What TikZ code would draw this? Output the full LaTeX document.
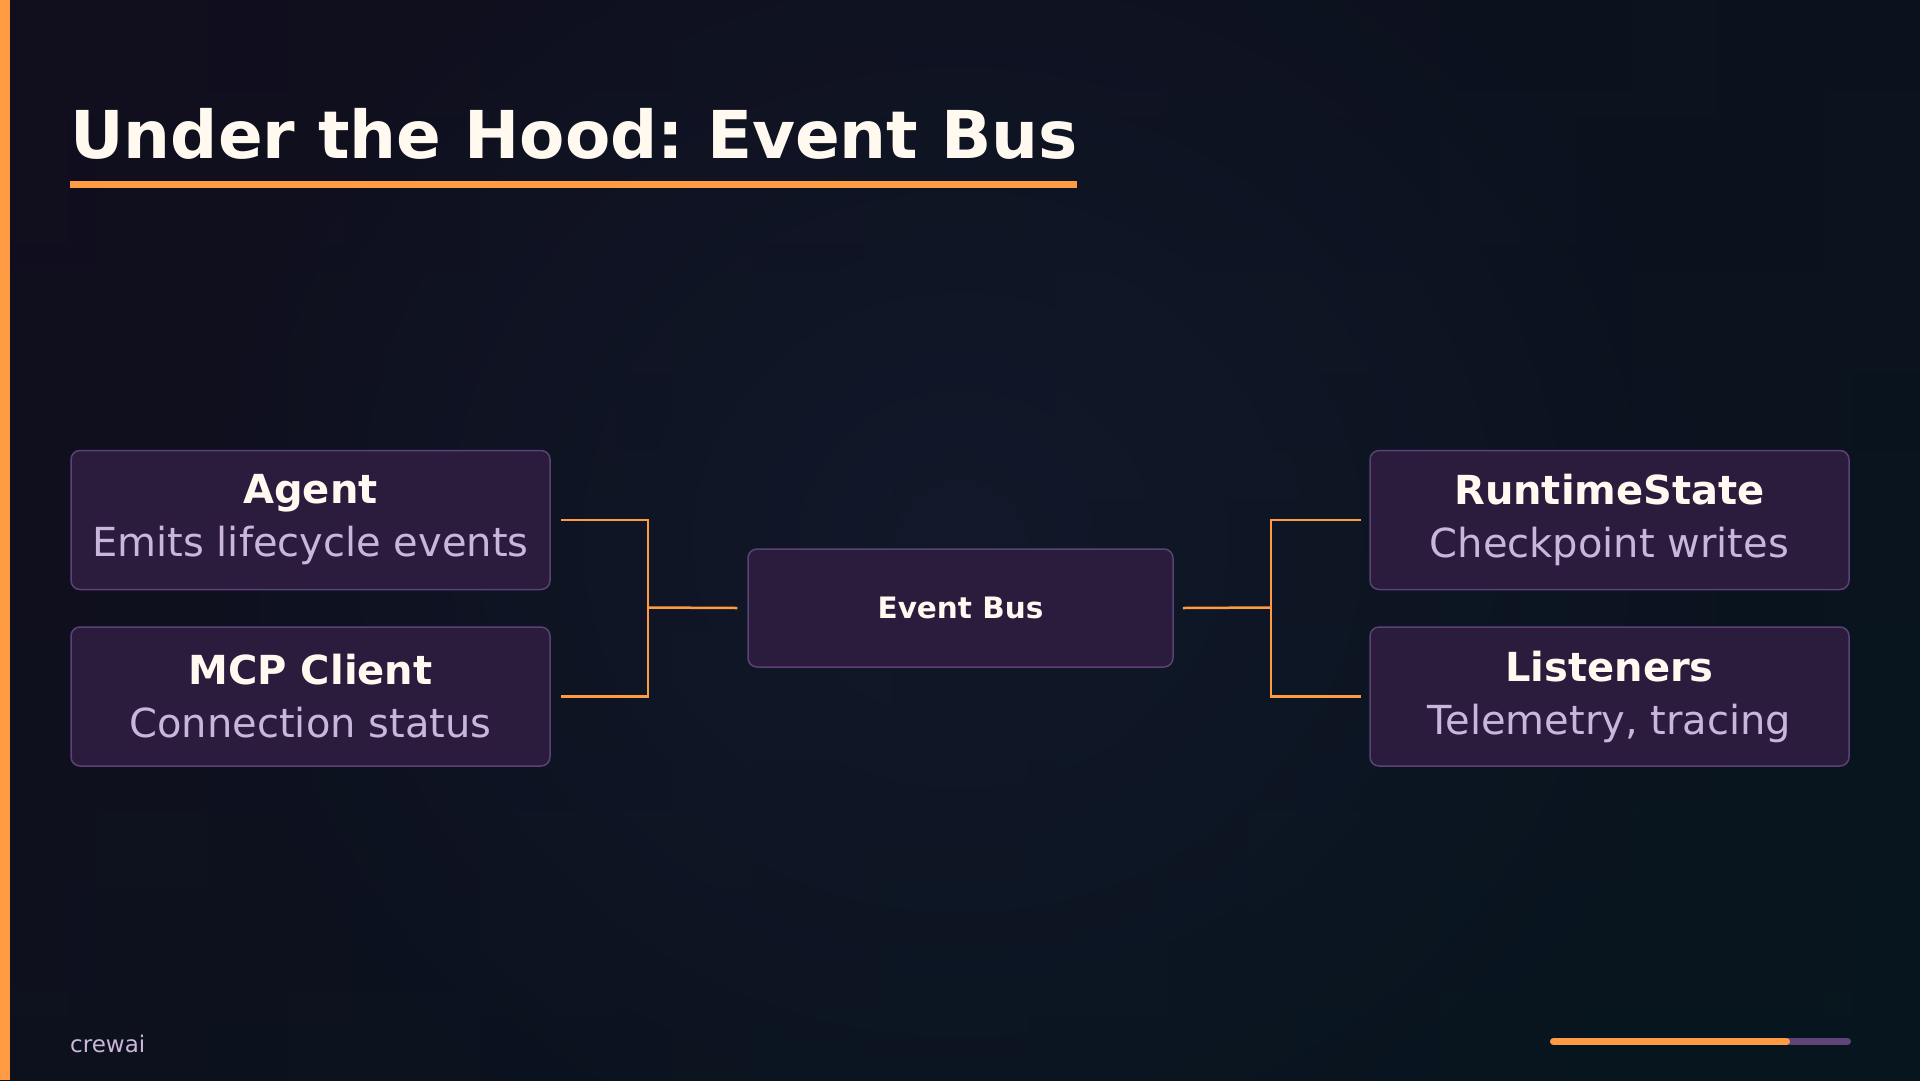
\documentclass[tikz,border=0pt]{standalone}
\usepackage{fontspec}
\setmainfont{DejaVu Sans}
\usetikzlibrary{fadings}
\frenchspacing
\definecolor{bgA}{HTML}{150C1E}
\definecolor{bgB}{HTML}{07161E}
\definecolor{glow}{HTML}{131B2E}
\definecolor{boxfill}{HTML}{2B1B3D}
\definecolor{boxborder}{HTML}{5B4275}
\definecolor{accent}{HTML}{FF9B42}
\definecolor{titlewhite}{HTML}{FFF9F0}
\definecolor{subtext}{HTML}{CBB6DB}
\definecolor{barpurple}{HTML}{5E4479}
\tikzfading[name=glowfade, inner color=transparent!25, outer color=transparent!100]
\tikzset{
  box/.style={draw=boxborder, line width=1.5pt, fill=boxfill, rounded corners=9pt,
    minimum width=479pt, minimum height=139pt, inner sep=0pt, align=center,
    text=titlewhite, font=\fontsize{40}{53}\selectfont},
  busbox/.style={box, minimum width=425pt, minimum height=118pt,
    font=\fontsize{29.5}{36}\selectfont\bfseries},
  conn/.style={draw=accent, line width=2.5pt},
}
\begin{document}
\begin{tikzpicture}[x=1pt,y=-1pt]
\useasboundingbox (0,0) rectangle (1920,1080);
% background
\shade[left color=bgA, right color=bgB] (0,0) rectangle (1920,1080);
\shade[top color=bgA!60!bgB, bottom color=bgB, opacity=0.5] (0,0) rectangle (1920,1080);
\fill[glow, path fading=glowfade] (160,-200) rectangle (1760,1280);
% left accent bar
\fill[accent] (0,0) rectangle (10,1080);
% title
\node[anchor=base west, inner sep=0pt, text=titlewhite, font=\fontsize{66}{70}\selectfont\bfseries] (title) at (70,158) {Under the Hood: Event Bus};
\fill[accent] (70,181) rectangle (1077,188);
% boxes
\node[box] (agent) at (310.5,520) {{\bfseries Agent}\\{\color{subtext}Emits lifecycle events}};
\node[box] (mcp) at (310.5,696.5) {{\bfseries MCP Client}\\{\color{subtext}Connection status}};
\node[busbox] (bus) at (960.5,608) {Event Bus};
\node[box] (rs) at (1609.5,520) {{\bfseries RuntimeState}\\{\color{subtext}Checkpoint writes}};
\node[box] (lis) at (1609.5,696.5) {{\bfseries Listeners}\\{\color{subtext}Telemetry, tracing}};
% connectors
\coordinate (jl) at (648,607.5);
\coordinate (jr) at (1271,607.5);
\draw[conn] ([xshift=10pt]agent.east) -| (jl) |- ([xshift=10pt]mcp.east);
\draw[conn] (jl) -- ([xshift=-10pt]bus.west);
\draw[conn] ([xshift=-8pt]rs.west) -| (jr) |- ([xshift=-8pt]lis.west);
\draw[conn] (jr) -- ([xshift=9pt]bus.east);
% footer
\node[anchor=base west, inner sep=0pt, text=subtext, font=\fontsize{23}{26}\selectfont] (brand) at (70,1052) {crewai};
\draw[barpurple, line width=7pt, line cap=round] (1553.5,1041.5) -- (1847.5,1041.5);
\draw[accent, line width=7pt, line cap=round] (1553.5,1041.5) -- (1786.5,1041.5);
\end{tikzpicture}
\end{document}
